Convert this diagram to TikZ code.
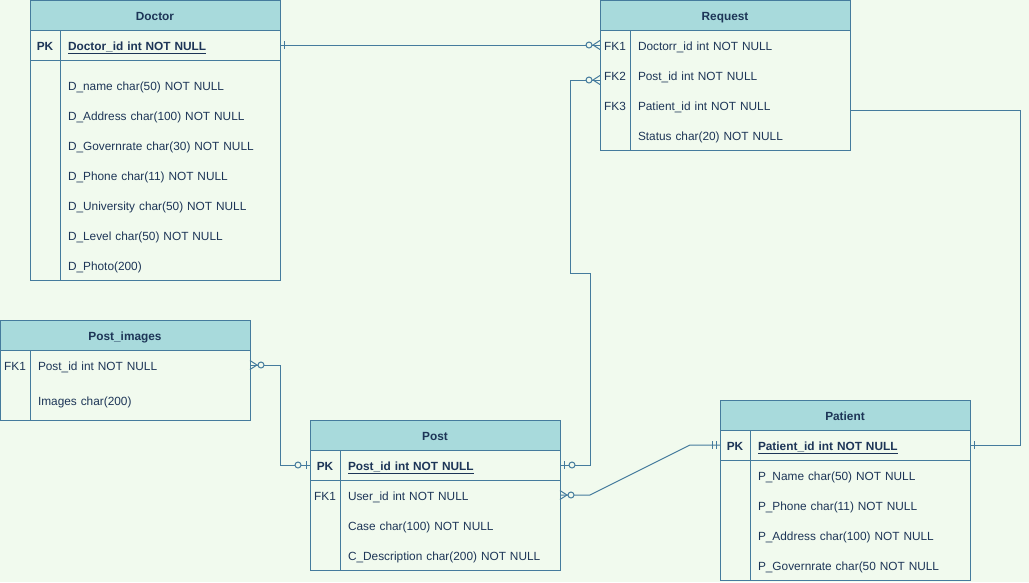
\documentclass[tikz,border=0pt]{standalone}
\usepackage{fontspec}
\setmainfont{Liberation Sans}
\usetikzlibrary{positioning}

\definecolor{bgc}{HTML}{F1FAEE}
\definecolor{headc}{HTML}{A8DADC}
\definecolor{linec}{HTML}{457B9D}
\definecolor{textc}{HTML}{1D3557}

\tikzset{
  ln/.style={draw=linec, line width=1pt},
  hdr/.style={ln, fill=headc, minimum width=250pt, minimum height=30pt, outer sep=0pt,
    text height=11pt, text depth=1pt,
    text=textc, font=\fontsize{11.85pt}{14pt}\selectfont\bfseries},
  field/.style={text width=204pt, inner xsep=8pt, inner ysep=0pt, minimum height=30pt,
    text height=11pt, text depth=1pt,
    outer sep=0pt, align=left, text=textc, font=\fontsize{11.85pt}{14pt}\selectfont},
  key/.style={minimum width=30pt, minimum height=30pt, inner sep=0pt, outer sep=0pt,
    text height=11pt, text depth=1pt,
    text=textc, font=\fontsize{11.85pt}{14pt}\selectfont},
  zmany/.pic={\draw[ln] (0,-4.5) -- (7,0) -- (0,4.5);
    \draw[ln, fill=bgc] (11,0) circle[radius=3pt];},
  zone/.pic={\draw[ln] (4,-4) -- (4,4);
    \draw[ln, fill=bgc] (12,0) circle[radius=3pt];},
  justone/.pic={\draw[ln] (4,-4) -- (4,4);},
  twobar/.pic={\draw[ln] (4,-4) -- (4,4) (8,-4) -- (8,4);}
}

\begin{document}
\begin{tikzpicture}[x=1pt, y=-1pt]
  \useasboundingbox (0,0) rectangle (1029,582);
  \fill[bgc] (0,0) rectangle (1029,582);

  % Doctor
  \draw[ln] (30,30) rectangle (280,280);
  \node[hdr] (doctor) at (155,15) {Doctor};
  \node[field, anchor=west] (docid) at (60,45) {\textbf{\underline{Doctor\_id int NOT NULL}}};
  \node[key, left=0pt of docid] (dockey) {\textbf{PK}};
  \node[field, below=10pt of docid] (docname) {D\_name char(50) NOT NULL};
  \node[field, below=0pt of docname] (docaddr) {D\_Address char(100) NOT NULL};
  \node[field, below=0pt of docaddr] (docgov) {D\_Governrate char(30) NOT NULL};
  \node[field, below=0pt of docgov] (docphone) {D\_Phone char(11) NOT NULL};
  \node[field, below=0pt of docphone] (docuni) {D\_University char(50) NOT NULL};
  \node[field, below=0pt of docuni] (doclevel) {D\_Level char(50) NOT NULL};
  \node[field, below=0pt of doclevel] (docphoto) {D\_Photo(200)};
  \draw[ln] (docid.north west) -- (docphoto.south west);
  \draw[ln] (doctor.west |- docid.south) -- (doctor.east |- docid.south);

  % Request
  \draw[ln] (600,30) rectangle (850,150);
  \node[hdr] (request) at (725,15) {Request};
  \node[field, anchor=west] (reqdoc) at (630,45) {Doctorr\_id int NOT NULL};
  \node[field, below=0pt of reqdoc] (reqpost) {Post\_id int NOT NULL};
  \node[field, below=0pt of reqpost] (reqpat) {Patient\_id int NOT NULL};
  \node[field, below=0pt of reqpat] (reqstat) {Status char(20) NOT NULL};
  \node[key, left=0pt of reqdoc] {FK1};
  \node[key, left=0pt of reqpost] {FK2};
  \node[key, left=0pt of reqpat] {FK3};
  \draw[ln] (reqdoc.north west) -- (reqstat.south west);

  % Post_images
  \draw[ln] (0,350) rectangle (250,420);
  \node[hdr] (postimg) at (125,335) {Post\_images};
  \node[field, anchor=west] (piid) at (30,365) {Post\_id int NOT NULL};
  \node[field, below=5pt of piid] (piimg) {Images char(200)};
  \node[key, left=0pt of piid] {FK1};
  \draw[ln] (piid.north west) -- (30,420);

  % Post
  \draw[ln] (310,450) rectangle (560,570);
  \node[hdr] (post) at (435,435) {Post};
  \node[field, anchor=west] (postid) at (340,465) {\textbf{\underline{Post\_id int NOT NULL}}};
  \node[field, below=0pt of postid] (postuser) {User\_id int NOT NULL};
  \node[field, below=0pt of postuser] (postcase) {Case char(100) NOT NULL};
  \node[field, below=0pt of postcase] (postdesc) {C\_Description char(200) NOT NULL};
  \node[key, left=0pt of postid] {\textbf{PK}};
  \node[key, left=0pt of postuser] {FK1};
  \draw[ln] (postid.north west) -- (postdesc.south west);
  \draw[ln] (post.west |- postid.south) -- (post.east |- postid.south);

  % Patient
  \draw[ln] (720,430) rectangle (970,580);
  \node[hdr] (patient) at (845,415) {Patient};
  \node[field, anchor=west] (patid) at (750,445) {\textbf{\underline{Patient\_id int NOT NULL}}};
  \node[field, below=0pt of patid] (patname) {P\_Name char(50) NOT NULL};
  \node[field, below=0pt of patname] (patphone) {P\_Phone char(11) NOT NULL};
  \node[field, below=0pt of patphone] (pataddr) {P\_Address char(100) NOT NULL};
  \node[field, below=0pt of pataddr] (patgov) {P\_Governrate char(50 NOT NULL};
  \node[key, left=0pt of patid] {\textbf{PK}};
  \draw[ln] (patid.north west) -- (patgov.south west);
  \draw[ln] (patient.west |- patid.south) -- (patient.east |- patid.south);

  % relations
  \draw[ln] (docid.east) -- (request.west |- reqdoc);
  \draw[ln] (postid.east) -- ++(30,0) -- ++(0,-192) -- ++(-20,0)
    |- ([yshift=-5pt]request.west |- reqpost);
  \draw[ln] (piid.east) -- ++(30,0) |- (post.west |- postid);
  \draw[ln] (postuser.east) -- ++(30,0) -- ([xshift=-30pt]patient.west |- patid)
    -- (patient.west |- patid);
  \draw[ln] ([yshift=-5pt]reqpat.east) -| ([xshift=50pt]patid.east) -- (patid.east);

  \pic at (docid.east) {justone};
  \pic[xscale=-1] at (request.west |- reqdoc) {zmany};
  \pic at (postid.east) {zone};
  \pic[xscale=-1] at ([yshift=-5pt]request.west |- reqpost) {zmany};
  \pic at (piid.east) {zmany};
  \pic[xscale=-1] at (post.west |- postid) {zone};
  \pic at (postuser.east) {zmany};
  \pic[xscale=-1] at (patient.west |- patid) {twobar};
  \pic at (patid.east) {justone};
\end{tikzpicture}
\end{document}
